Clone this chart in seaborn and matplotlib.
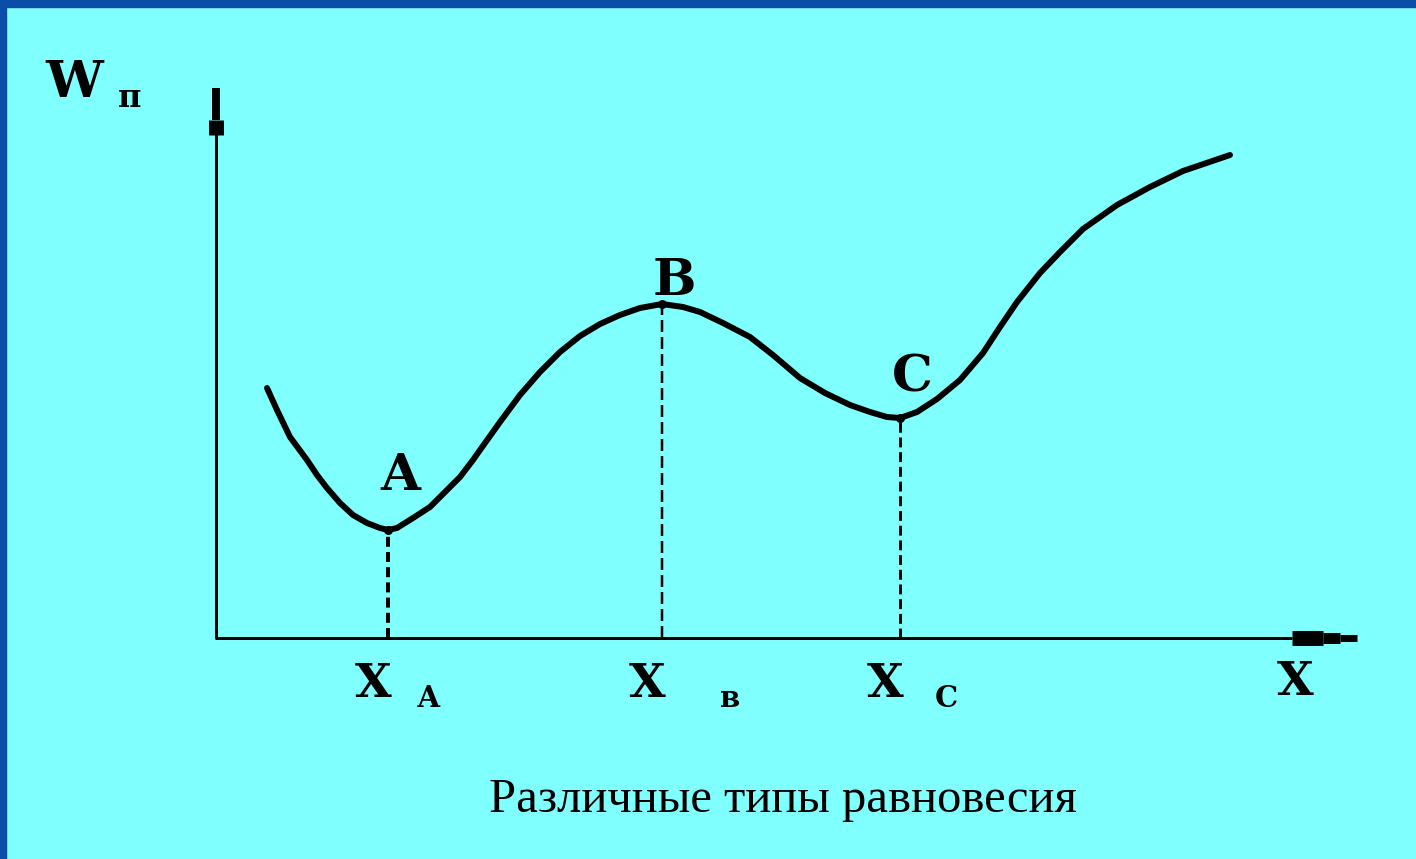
import matplotlib
matplotlib.use("Agg")
import matplotlib.pyplot as plt
import seaborn as sns
from matplotlib.patches import Rectangle

# Curve W_p(x) (units ~ pixels from the axes corner)
curve_x = [52, 62, 75, 92, 102, 112, 125, 138, 152, 165, 173, 182, 198, 215, 232,
           245, 258, 265, 285, 305, 325, 345, 365, 385, 405, 425, 447, 468, 485,
           508, 535, 558, 585, 610, 635, 655, 672, 685, 702, 722, 745, 768, 785,
           802, 825, 845, 868, 902, 935, 968, 1015]
curve_y = [250, 228, 201, 178, 163, 150, 135, 123, 115, 110, 108, 110, 120, 131, 148,
           161, 178, 188, 216, 243, 266, 286, 302, 314, 323, 330, 334, 331, 326,
           315, 301, 283, 260, 245, 233, 226, 221, 220, 226, 239, 258, 285, 311,
           336, 365, 386, 409, 433, 451, 467, 483]

# Equilibrium points A, B, C
eq_names = ["A", "B", "C"]
eq_x = [173, 447, 685]
eq_y = [108, 334, 220]
eq_sub = ["А", "в", "С"]

x_max = 1142
y_max = 550
caption = "Различные типы равновесия"

BG = "#80FFFF"
FRAME = "#0B4EA8"

sns.set_theme(style="white")
plt.rcParams['font.family'] = ['DejaVu Serif', 'DejaVu Sans']

fig = plt.figure(figsize=(14.16, 8.59), dpi=100, facecolor=BG)
W, H = 1416, 859
ax = fig.add_axes([215 / W, (H - 638) / H, 1140 / W, 548 / H])
ax.set_xlim(0, 1140)
ax.set_ylim(0, 548)
ax.axis('off')
ax.set_facecolor(BG)

# blue frame strips on top and left
fig.patches.append(Rectangle((0, 1 - 7 / H), 1, 7 / H, transform=fig.transFigure,
                             color=FRAME, zorder=0))
fig.patches.append(Rectangle((0, 0), 6 / W, 1, transform=fig.transFigure,
                             color=FRAME, zorder=0))

px = 0.72  # points per pixel

# axes with stepped arrowheads
ax.plot([1, 1], [0, y_max - 40], color='black', lw=3 * px, clip_on=False, solid_capstyle='butt')
ax.plot([1, 1], [y_max - 47, y_max - 32], color='black', lw=15 * px, clip_on=False, solid_capstyle='butt')
ax.plot([1, 1], [y_max - 32, y_max], color='black', lw=8 * px, clip_on=False, solid_capstyle='butt')

ax.plot([0, x_max - 65], [0, 0], color='black', lw=3 * px, clip_on=False, solid_capstyle='butt')
ax.plot([x_max - 65, x_max - 34], [0, 0], color='black', lw=15 * px, clip_on=False, solid_capstyle='butt')
ax.plot([x_max - 34, x_max - 17], [0, 0], color='black', lw=11 * px, clip_on=False, solid_capstyle='butt')
ax.plot([x_max - 17, x_max], [0, 0], color='black', lw=7 * px, clip_on=False, solid_capstyle='butt')

# curve
sns.lineplot(x=curve_x, y=curve_y, color='black', lw=6 * px, sort=False, ax=ax,
             solid_capstyle='round', solid_joinstyle='round')

# dashed drop lines
dash_lw = [4 * px, 2.5 * px, 3 * px]
dash_pat = [(0, (2.5, 1.3)), (0, (4.8, 2.0)), (0, (3.3, 1.6))]
for xi, yi, lw, ls in zip(eq_x, eq_y, dash_lw, dash_pat):
    ax.plot([xi, xi], [0, yi], color='black', lw=lw, linestyle=ls, clip_on=False)
ax.scatter(eq_x, eq_y, s=30, color='black', zorder=5, clip_on=False)

bold = dict(color='black', fontweight='bold', clip_on=False)

# point labels
label_dy = [40, 9, 26]
for name, xi, yi, dy in zip(eq_names, eq_x, eq_y, label_dy):
    ax.text(xi + 12, yi + dy, name, fontsize=37, ha='center', va='baseline', **bold)

# x labels with subscripts
sub_dx = [62, 91, 68]
for sub, xi, dx in zip(eq_sub, eq_x, sub_dx):
    ax.text(xi - 33, -59, "X", fontsize=34, ha='left', va='baseline', **bold)
    ax.text(xi - 33 + dx, -69, sub, fontsize=21, ha='left', va='baseline', **bold)

ax.text(x_max - 80, -57, "X", fontsize=34, ha='left', va='baseline', **bold)

# y label
ax.text(-170, y_max - 9, "W", fontsize=37, ha='left', va='baseline', **bold)
ax.text(-97, y_max - 19, "п", fontsize=23, ha='left', va='baseline', **bold)

# caption
ax.text(568, -174, caption, fontsize=35, ha='center', va='baseline',
        family=['Liberation Serif', 'DejaVu Serif'], color='black', clip_on=False)

fig.savefig("out.png", dpi=100, facecolor=BG)
